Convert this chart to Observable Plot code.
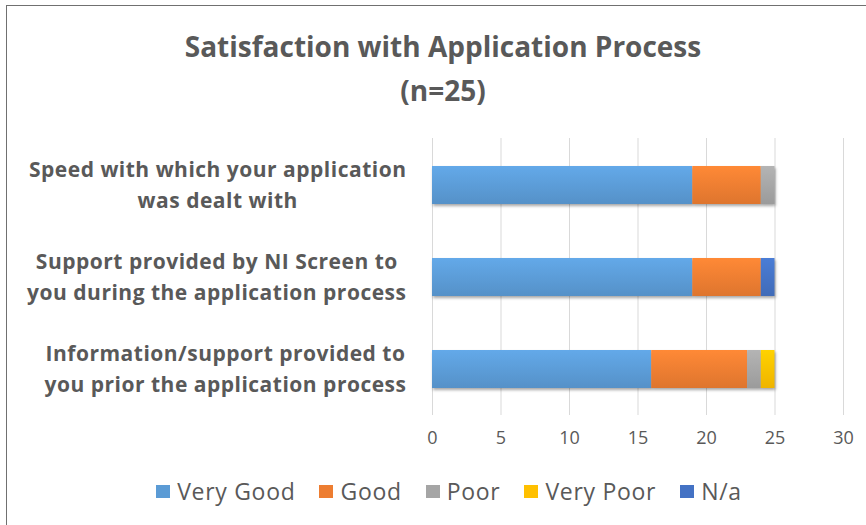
<!DOCTYPE html>
<html>
<head>
<meta charset="utf-8">
<script src="https://cdn.jsdelivr.net/npm/d3@7"></script>
<script src="https://cdn.jsdelivr.net/npm/@observablehq/plot@0.6"></script>
<style>
  body { margin: 0; background: #fff; }
  #chart { position: relative; width: 866px; height: 525px; overflow: hidden; font-family: "Open Sans", sans-serif; background: #fff; }
  #frame { position: absolute; left: 6px; top: 5px; width: 900px; height: 600px; border-left: 1px solid #707070; border-top: 1px solid #707070; }
  #title { position: absolute; left: 10px; top: 24px; width: 866px; text-align: center; font-weight: bold; color: #595959; font-size: 28px; line-height: 44px; }
  #plot { position: absolute; left: 0; top: 125px; }
  #legend { position: absolute; left: 16px; top: 475px; width: 866px; display: flex; justify-content: center; align-items: center; color: #595959; font-size: 23px; letter-spacing: 0.7px; }
  .item { display: flex; align-items: center; margin: 0 12px; }
  .sw { width: 14px; height: 13px; margin-right: 7px; }
</style>
</head>
<body>
<div id="chart">
  <div id="frame"></div>
  <div id="title">Satisfaction with Application Process<br>(n=25)</div>
  <div id="plot"></div>
  <div id="legend"></div>
</div>
<script>
const categories = [
  "Speed with which your application\nwas dealt with",
  "Support provided by NI Screen to\nyou during the application process",
  "Information/support provided to\nyou prior the application process"
];
const ratings = ["Very Good", "Good", "Poor", "Very Poor", "N/a"];
const colors = ["#5B9BD5", "#ED7D31", "#A5A5A5", "#FFC000", "#4472C4"];
const veryGood = [19, 19, 16];
const good = [5, 5, 7];
const poor = [1, 0, 1];
const veryPoor = [0, 0, 1];
const na = [0, 1, 0];
const xTicks = [0, 5, 10, 15, 20, 25, 30];

const series = [veryGood, good, poor, veryPoor, na];
const rows = [];
categories.forEach((c, i) => {
  ratings.forEach((r, j) => {
    if (series[j][i] > 0) rows.push({category: c, rating: r, value: series[j][i]});
  });
});

const gradIds = ratings.map((r, i) => "grad" + i);
const defs = () => {
  const d = d3.create("svg:defs");
  colors.forEach((c, i) => {
    const g = d.append("linearGradient").attr("id", gradIds[i]).attr("x1", 0).attr("y1", 0).attr("x2", 0).attr("y2", 1);
    g.append("stop").attr("offset", "0%").attr("stop-color", d3.color(c).brighter(0.25).formatHex());
    g.append("stop").attr("offset", "100%").attr("stop-color", d3.color(c).darker(0.18).formatHex());
  });
  return d.node();
};

const plot = Plot.plot({
  width: 866,
  height: 335,
  marginLeft: 432,
  marginRight: 23,
  marginTop: 13,
  marginBottom: 45,
  style: {fontFamily: "'Open Sans', sans-serif", color: "#595959", background: "transparent"},
  x: {domain: [0, 30], label: null},
  y: {domain: categories, paddingInner: 0.59, paddingOuter: 0.295, label: null},
  color: {domain: ratings, range: gradIds.map(id => `url(#${id})`)},
  marks: [
    defs,
    Plot.gridX(xTicks, {stroke: "#d9d9d9", strokeOpacity: 1, strokeWidth: 1}),
    Plot.barX(rows, Plot.stackX({
      y: "category",
      x: "value",
      fill: "rating",
      order: ratings
    })),
    Plot.axisX(xTicks, {tickSize: 0, tickPadding: 16, fontSize: 18, fill: "#595959", label: null}),
    Plot.axisY({tickSize: 0, tickPadding: 26, textAnchor: "middle", fontSize: 21, fontWeight: "bold", fill: "#595959", lineHeight: 1.47, dy: -3, label: null})
  ]
});

document.getElementById("plot").appendChild(plot);

// drop shadow on bars
plot.querySelectorAll('g[aria-label="bar"]').forEach(g => {
  g.setAttribute("style", "filter: drop-shadow(1.5px 2px 1.5px rgba(0,0,0,0.35))");
});

// y labels: slight letter spacing, then center each multi-line label on its widest line, right-aligned block
plot.querySelectorAll('g[aria-label="y-axis tick label"] text').forEach(t => {
  t.setAttribute("letter-spacing", "0.5");
  const spans = t.querySelectorAll("tspan");
  let maxLen = 0;
  if (spans.length) spans.forEach(s => { maxLen = Math.max(maxLen, s.getComputedTextLength()); });
  else maxLen = t.getComputedTextLength();
  const tr = t.getAttribute("transform") || "";
  t.setAttribute("transform", tr + ` translate(${-maxLen / 2},0)`);
});

// legend
const legend = document.getElementById("legend");
ratings.forEach((r, i) => {
  const item = document.createElement("div");
  item.className = "item";
  const sw = document.createElement("div");
  sw.className = "sw";
  sw.style.background = colors[i];
  const lab = document.createElement("span");
  lab.textContent = r;
  item.appendChild(sw);
  item.appendChild(lab);
  legend.appendChild(item);
});
</script>
</body>
</html>
